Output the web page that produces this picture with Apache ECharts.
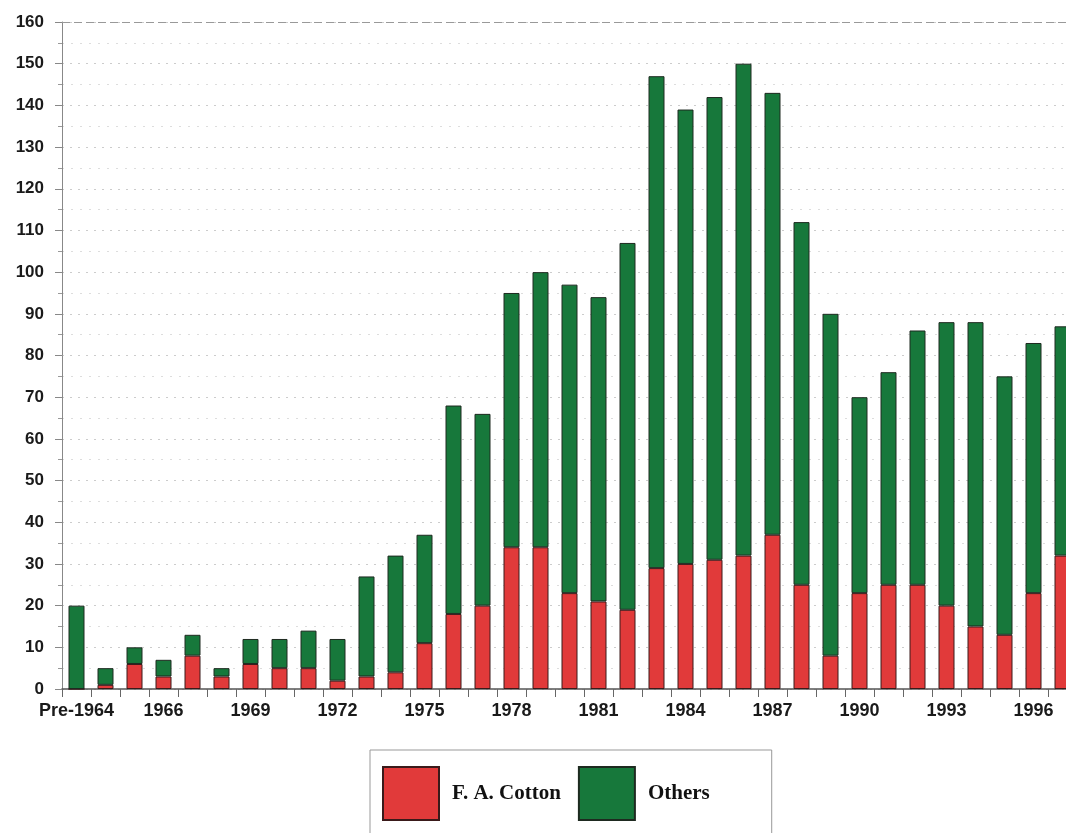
<!DOCTYPE html>
<html>
<head>
<meta charset="utf-8">
<script src="https://cdn.jsdelivr.net/npm/echarts@6/dist/echarts.min.js"></script>
<style>html,body{margin:0;padding:0;background:#fff;}#c{width:1066px;height:833px;}</style>
</head>
<body>
<div id="c"></div>
<script>
var categories = ["Pre-1964","1964","1965","1966","1967","1968","1969","1970","1971","1972","1973","1974","1975","1976","1977","1978","1979","1980","1981","1982","1983","1984","1985","1986","1987","1988","1989","1990","1991","1992","1993","1994","1995","1996","1997"];
var cottonValues = [0,1,6,3,8,3,6,5,5,2,3,4,11,18,20,34,34,23,21,19,29,30,31,32,37,25,8,23,25,25,20,15,13,23,32];
var othersValues = [20,4,4,4,5,2,6,7,9,10,24,28,26,50,46,61,66,74,73,88,118,109,111,118,106,87,82,47,51,61,68,73,62,60,55];
var yTicks = [0,10,20,30,40,50,60,70,80,90,100,110,120,130,140,150,160];

var chart = echarts.init(document.getElementById('c'));
chart.setOption({
  animation: false,
  backgroundColor: '#fff',
  grid: { left: 62, width: 1015, top: 22, height: 667, containLabel: false, outerBoundsMode: 'none' },
  legend: {
    data: ['F. A. Cotton', 'Others'],
    left: 370, top: 750,
    orient: 'horizontal',
    itemWidth: 56, itemHeight: 53, itemGap: 17,
    padding: [16, 62, 30, 12],
    borderColor: '#999', borderWidth: 1,
    icon: 'rect',
    textStyle: { fontFamily: 'Liberation Serif', fontWeight: 'bold', fontSize: 21, color: '#111', padding: [0, 0, 0, 8] }
  },
  xAxis: {
    type: 'category',
    data: categories,
    boundaryGap: true,
    axisLine: { lineStyle: { color: '#555', width: 1.5 } },
    axisTick: { show: true, interval: 0, length: 8, lineStyle: { color: '#666' } },
    axisLabel: { interval: 2, fontFamily: 'Liberation Sans', fontWeight: 'bold', fontSize: 18, color: '#1a1a1a', margin: 13 }
  },
  yAxis: {
    type: 'value',
    min: 0, max: 160, interval: 10,
    axisLine: { show: true, lineStyle: { color: '#888' } },
    axisTick: { show: true, length: 7, lineStyle: { color: '#888' } },
    minorTick: { show: true, splitNumber: 2, length: 4, lineStyle: { color: '#999' } },
    axisLabel: {
      fontFamily: 'Liberation Sans', fontWeight: 'bold', fontSize: 17, color: '#1a1a1a', margin: 18,
      formatter: function (v) { return yTicks.indexOf(v) >= 0 ? String(v) : ''; }
    },
    splitLine: { show: true, lineStyle: { color: '#ccc', type: [2, 6], width: 1 } },
    minorSplitLine: { show: true, lineStyle: { color: '#ddd', type: [2, 7], width: 1 } }
  },
  series: [
    {
      name: 'F. A. Cotton', type: 'bar', stack: 'total', data: cottonValues, barWidth: 16,
      itemStyle: { color: '#e13a3a', borderColor: '#3a1a1a', borderWidth: 1 },
      markLine: {
        silent: true, symbol: 'none', label: { show: false },
        lineStyle: { color: '#999', type: [8, 4], width: 1.2 },
        data: [{ yAxis: 160 }]
      }
    },
    {
      name: 'Others', type: 'bar', stack: 'total', data: othersValues, barWidth: 16,
      itemStyle: { color: '#17783b', borderColor: '#1e2a20', borderWidth: 1 }
    }
  ]
});
</script>
</body>
</html>
